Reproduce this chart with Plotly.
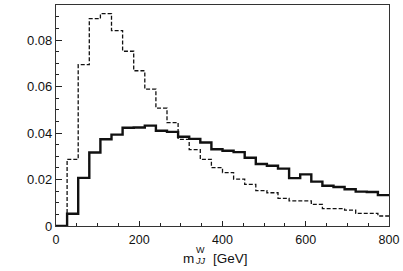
import numpy as np
import plotly.graph_objects as go

# ---- data (30 bins from 0 to 800 GeV) ----
x_min, x_max, n_bins = 0, 800, 30
solid_vals = [0.0, 0.0053, 0.0207, 0.0316, 0.0373, 0.0393, 0.0423, 0.0424, 0.0432, 0.0410,
              0.0405, 0.0384, 0.0375, 0.0359, 0.0330, 0.0324, 0.0318, 0.0294, 0.0267, 0.0259,
              0.0247, 0.0206, 0.0222, 0.0191, 0.0173, 0.0168, 0.0158, 0.0148, 0.0146, 0.0133]
dashed_vals = [0.0, 0.0287, 0.0694, 0.0892, 0.0914, 0.0841, 0.0752, 0.0668, 0.0589, 0.0507,
               0.0445, 0.0373, 0.0329, 0.0287, 0.0251, 0.0230, 0.0202, 0.0179, 0.0152, 0.0143,
               0.0119, 0.0108, 0.0108, 0.0093, 0.0075, 0.0075, 0.0068, 0.0054, 0.0054, 0.0043]
x_tick_vals = [0, 200, 400, 600, 800]
y_tick_vals = [0, 0.02, 0.04, 0.06, 0.08]
y_tick_text = ["0", "0.02", "0.04", "0.06", "0.08"]

edges = np.linspace(x_min, x_max, n_bins + 1)

def step_xy(vals):
    xs = list(edges[:-1]) + [edges[-1]]
    ys = list(vals) + [vals[-1]]
    return xs, ys

fig = go.Figure()
xs, ys = step_xy(dashed_vals)
fig.add_trace(go.Scatter(x=xs, y=ys, mode="lines", line_shape="hv",
                         line=dict(color="#111", width=1.3, dash="4px,2px"),
                         showlegend=False, hoverinfo="skip"))
xs, ys = step_xy(solid_vals)
fig.add_trace(go.Scatter(x=xs, y=ys, mode="lines", line_shape="hv",
                         line=dict(color="#111", width=2.4),
                         showlegend=False, hoverinfo="skip"))

W, H = 403, 271
ml, mr, mt, mb = 56, 14, 5, 45
pw, ph = W - ml - mr, H - mt - mb

def px_x(px):
    return (px - ml) / pw

def px_y(py):
    return (H - mb - py) / ph

font = "Liberation Sans, Arial, Helvetica, sans-serif"

fig.update_layout(
    width=W, height=H,
    margin=dict(l=ml, r=mr, t=mt, b=mb),
    paper_bgcolor="white", plot_bgcolor="white",
    font=dict(family=font, size=12.5, color="#111"),
    xaxis=dict(range=[x_min, x_max], tickvals=x_tick_vals, ticks="inside", ticklen=5,
               tickwidth=1, tickcolor="#222", showgrid=False, zeroline=False,
               showline=True, linecolor="#333", linewidth=1.3, mirror=True,
               minor=dict(dtick=50, ticks="inside", ticklen=2.5, tickcolor="#222", showgrid=False),
               tickfont=dict(size=12.5), ticklabelstandoff=2),
    yaxis=dict(range=[0, 0.0951], tickvals=y_tick_vals, ticktext=y_tick_text,
               ticks="inside", ticklen=6, tickwidth=1, tickcolor="#222",
               showgrid=False, zeroline=False,
               showline=True, linecolor="#333", linewidth=1.3, mirror=True,
               minor=dict(dtick=0.005, ticks="inside", ticklen=3, tickcolor="#222", showgrid=False),
               tickfont=dict(size=13)),
)

# x-axis title with stacked super/subscript
ann_common = dict(xref="paper", yref="paper", showarrow=False, yanchor="middle", xanchor="center")
fig.add_annotation(text="m", x=px_x(188.5), y=px_y(258.5), font=dict(size=13.5), **ann_common)
fig.add_annotation(text="W", x=px_x(200.5), y=px_y(249.5), font=dict(size=9), **ann_common)
fig.add_annotation(text="<i>JJ</i>", x=px_x(200.5), y=px_y(260.5), font=dict(size=9), **ann_common)
fig.add_annotation(text="[GeV]", x=px_x(230.5), y=px_y(258), font=dict(size=13.5), **ann_common)

fig.write_html("out.html", config={"displayModeBar": False},
               post_script="document.body.style.margin='0';")
